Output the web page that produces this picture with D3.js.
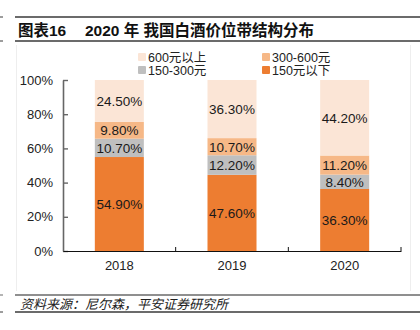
<!DOCTYPE html>
<html>
<head>
<meta charset="utf-8">
<script src="https://cdn.jsdelivr.net/npm/d3@7"></script>
<style>
    body { margin: 0; background: #fff; }
    svg { display: block; }
</style>
</head>
<body>
<div id="chart"></div>
<script>
const years = ['2018', '2019', '2020'];
const seriesNames = ['150元以下', '150-300元', '300-600元', '600元以上'];
const below150 = [54.9, 47.6, 36.3];
const from150to300 = [10.7, 12.2, 8.4];
const from300to600 = [9.8, 10.7, 11.2];
const above600 = [24.5, 36.3, 44.2];
const yTicks = [0, 0.2, 0.4, 0.6, 0.8, 1];
const seriesColors = ['#ED7D31', '#BFBFBF', '#F6B887', '#FBE5D6'];

const W = 420, H = 330;
const margin = { top: 80, right: 19, bottom: 79, left: 63 };
const innerW = W - margin.left - margin.right;
const innerH = H - margin.top - margin.bottom;
const latin = '"Liberation Sans", Arial, sans-serif';
const cjk = '"Liberation Sans", "Noto Sans CJK SC", sans-serif';

// one row per year, keyed by band name
var rows = years.map(function(y, i) {
    var r = { year: y };
    r[seriesNames[0]] = below150[i];
    r[seriesNames[1]] = from150to300[i];
    r[seriesNames[2]] = from300to600[i];
    r[seriesNames[3]] = above600[i];
    return r;
});

// 100% stacked: each column is normalised to its own total
var stacked = d3.stack()
    .keys(seriesNames)
    .offset(d3.stackOffsetExpand)(rows);

var svg = d3.select('#chart').append('svg')
    .attr('width', W)
    .attr('height', H);

// header and footer rules
function rule(y, color, w) {
    svg.append('line').attr('x1', 15).attr('x2', W).attr('y1', y).attr('y2', y)
        .attr('stroke', color).attr('stroke-width', w);
    svg.append('line').attr('x1', 0).attr('x2', 3).attr('y1', y).attr('y2', y)
        .attr('stroke', color).attr('stroke-width', 1);
}
rule(17, '#3a3a3a', 1.3);
rule(41, '#3a3a3a', 1.6);
rule(295, '#6a6a6a', 1.6);
rule(312, '#3a3a3a', 1.6);

// faint frame around the plot block
[16.5, 410.5].forEach(function(x) {
    svg.append('line').attr('x1', x).attr('x2', x).attr('y1', 45).attr('y2', 291)
        .attr('stroke', '#eeeeee').attr('stroke-width', 1);
});

svg.append('text')
    .attr('x', 18).attr('y', 36)
    .attr('font-family', cjk).attr('font-weight', 'bold').attr('font-size', '15.5px')
    .attr('fill', '#111')
    .text('图表16');
svg.append('text')
    .attr('x', 85).attr('y', 36)
    .attr('font-family', cjk).attr('font-weight', 'bold').attr('font-size', '15.5px')
    .attr('fill', '#111')
    .attr('xml:space', 'preserve')
    .text('2020 年 我国白酒价位带结构分布');

svg.append('text')
    .attr('x', 20).attr('y', 309)
    .attr('font-family', cjk).attr('font-style', 'italic').attr('font-size', '13px')
    .attr('fill', '#222')
    .text('资料来源：尼尔森，平安证券研究所');

var g = svg.append('g').attr('transform', 'translate(' + margin.left + ',' + margin.top + ')');

var x = d3.scaleBand().domain(years).range([0, innerW]).paddingInner(0.565).paddingOuter(0.2825);
var y = d3.scaleLinear().domain([0, 1]).range([innerH, 0]);
var color = d3.scaleOrdinal().domain(seriesNames).range(seriesColors);

// bars
var layer = g.selectAll('.layer')
    .data(stacked)
    .enter()
    .append('g')
    .attr('fill', function(d) { return color(d.key); });

layer.selectAll('rect')
    .data(function(d) { return d; })
    .enter()
    .append('rect')
    .attr('x', function(d) { return x(d.data.year); })
    .attr('y', function(d) { return y(d[1]); })
    .attr('width', x.bandwidth())
    .attr('height', function(d) { return y(d[0]) - y(d[1]); });

// raw percentages written in the middle of each segment
layer.selectAll('text')
    .data(function(d) { return d.map(function(p) { return { p: p, key: d.key }; }); })
    .enter()
    .append('text')
    .attr('x', function(d) { return x(d.p.data.year) + x.bandwidth() / 2; })
    .attr('y', function(d) { return (y(d.p[0]) + y(d.p[1])) / 2; })
    .attr('dy', '0.36em')
    .attr('text-anchor', 'middle')
    .attr('font-family', latin).attr('font-size', '13.5px')
    .attr('fill', '#1a1a1a')
    .text(function(d) { return d.p.data[d.key].toFixed(2) + '%'; });

// y axis, ticks pointing into the plot
var yAxis = g.append('g')
    .call(d3.axisLeft(y).tickValues(yTicks).tickFormat(d3.format('.0%')).tickSizeInner(-5).tickSizeOuter(0).tickPadding(10));
yAxis.select('.domain').attr('stroke', '#666').attr('stroke-width', 1.6);
yAxis.selectAll('.tick line').attr('stroke', '#666').attr('stroke-width', 1.4);
yAxis.selectAll('.tick text').attr('font-family', latin).attr('font-size', '13px').attr('fill', '#222');

// x axis with separators between categories
var xAxis = g.append('g').attr('transform', 'translate(0,' + innerH + ')')
    .call(d3.axisBottom(x).tickSize(0).tickPadding(10));
xAxis.select('.domain').attr('stroke', '#111').attr('stroke-width', 1.2);
xAxis.selectAll('.tick text').attr('font-family', latin).attr('font-size', '13px').attr('fill', '#222');
xAxis.selectAll('.sep')
    .data(years)
    .enter()
    .append('line')
    .attr('x1', function(d) { return x(d) - x.step() * x.paddingInner() / 2 + x.step(); })
    .attr('x2', function(d) { return x(d) - x.step() * x.paddingInner() / 2 + x.step(); })
    .attr('y1', 0).attr('y2', -4)
    .attr('stroke', '#111').attr('stroke-width', 1);

// legend, two columns
var legendOrder = ['600元以上', '300-600元', '150-300元', '150元以下'];
var legend = svg.selectAll('.legend')
    .data(legendOrder)
    .enter()
    .append('g')
    .attr('transform', function(d, i) {
        return 'translate(' + (i % 2 ? 262 : 138) + ',' + (53 + Math.floor(i / 2) * 13) + ')';
    });
legend.append('rect')
    .attr('width', 8).attr('height', 8).attr('rx', 1)
    .attr('fill', function(d) { return color(d); });
legend.append('text')
    .attr('x', 10).attr('y', 4)
    .attr('dy', '0.36em')
    .attr('font-family', cjk).attr('font-size', '12.5px')
    .attr('fill', '#222')
    .text(function(d) { return d; });
</script>
</body>
</html>
